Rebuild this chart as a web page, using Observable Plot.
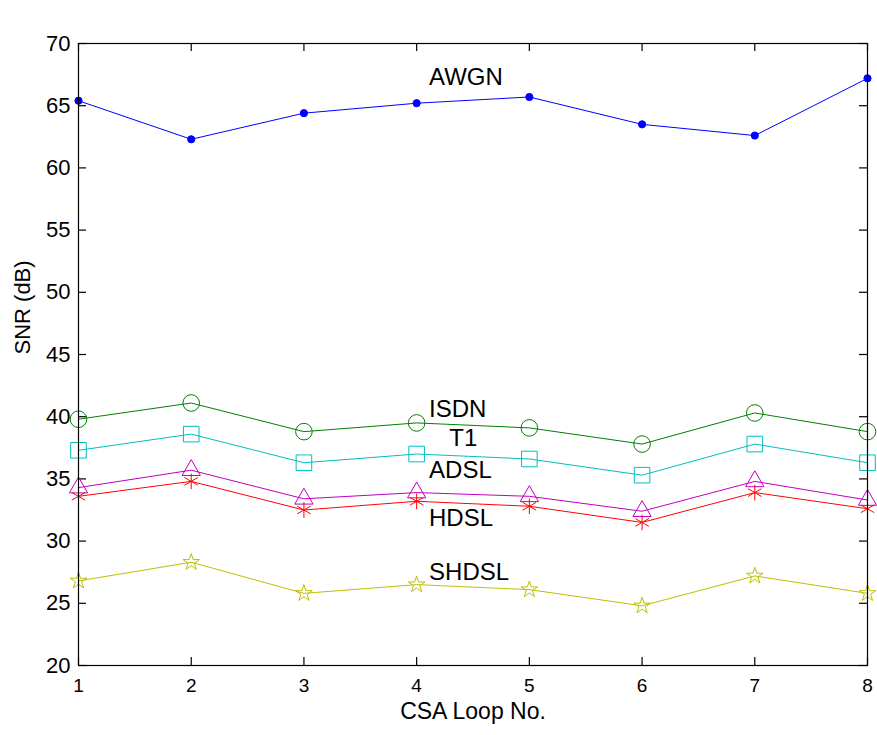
<!DOCTYPE html>
<html>
<head>
<meta charset="utf-8">
<script src="https://cdn.jsdelivr.net/npm/d3@7"></script>
<script src="https://cdn.jsdelivr.net/npm/@observablehq/plot@0.6"></script>
<style>
  html, body { margin: 0; padding: 0; background: #fff; }
  #chart { width: 877px; height: 735px; }
</style>
</head>
<body>
<div id="chart"></div>
<script>
const loops = [1, 2, 3, 4, 5, 6, 7, 8];
const awgn  = [65.4, 62.3, 64.4, 65.2, 65.7, 63.5, 62.6, 67.2];
const isdn  = [39.8, 41.1, 38.8, 39.5, 39.1, 37.8, 40.3, 38.8];
const t1    = [37.3, 38.6, 36.3, 37.0, 36.6, 35.3, 37.8, 36.3];
const adsl  = [34.3, 35.7, 33.4, 33.9, 33.6, 32.4, 34.8, 33.3];
const hdsl  = [33.6, 34.8, 32.5, 33.2, 32.8, 31.5, 33.9, 32.6];
const shdsl = [26.8, 28.3, 25.8, 26.5, 26.1, 24.8, 27.2, 25.8];
const yTicks = [20, 25, 30, 35, 40, 45, 50, 55, 60, 65, 70];
const xTicks = [1, 2, 3, 4, 5, 6, 7, 8];

// series label annotations (data coordinates)
const labelNames = ["AWGN", "ISDN", "T1", "ADSL", "HDSL", "SHDSL"];
const labelX = [4.11, 4.11, 4.29, 4.11, 4.11, 4.11];
const labelY = [67.3, 40.6, 38.25, 35.7, 31.8, 27.5];

const series = [
  {name: "AWGN",  values: awgn,  color: "#0000ff", symbol: "circle",   r: 3.6, filled: true},
  {name: "ISDN",  values: isdn,  color: "#008000", symbol: "circle",   r: 8.3},
  {name: "T1",    values: t1,    color: "#00bfbf", symbol: "square",   r: 8.8},
  {name: "ADSL",  values: adsl,  color: "#bf00bf", symbol: "triangle", r: 6.8},
  {name: "HDSL",  values: hdsl,  color: "#ff0000", symbol: "asterisk", r: 7.4},
  {name: "SHDSL", values: shdsl, color: "#bfbf00", symbol: "star",     r: 5.2}
];

const W = 877, H = 735, ML = 78, MR = 10, MT = 43, MB = 70;
const innerW = W - ML - MR, innerH = H - MT - MB, TL = 8;

const marks = [];
for (const s of series) {
  const rows = loops.map((x, i) => ({x, y: s.values[i]}));
  marks.push(Plot.line(rows, {x: "x", y: "y", stroke: s.color, strokeWidth: 1}));
  marks.push(Plot.dot(rows, {
    x: "x", y: "y", symbol: s.symbol, r: s.r,
    stroke: s.color, fill: s.filled ? s.color : "none", strokeWidth: 1
  }));
}
const labels = labelNames.map((t, i) => ({t, x: labelX[i], y: labelY[i]}));
const fmt = d3.format("d");
const tickStyle = {stroke: "#000", strokeWidth: 1.2};

const chart = Plot.plot({
  width: W,
  height: H,
  marginLeft: ML,
  marginRight: MR,
  marginTop: MT,
  marginBottom: MB,
  style: {fontFamily: "'Liberation Sans', Arial, Helvetica, sans-serif", color: "#000", background: "#fff", overflow: "visible"},
  x: {domain: [1, 8], ticks: xTicks},
  y: {domain: [20, 70], ticks: yTicks},
  marks: [
    Plot.axisY({anchor: "left", ticks: yTicks, tickSize: 0, tickPadding: 8, fontSize: 22, label: null, tickFormat: fmt}),
    Plot.axisX({anchor: "bottom", ticks: xTicks, tickSize: 0, tickPadding: 13, fontSize: 19, label: null, tickFormat: fmt}),
    Plot.tickY(yTicks, {y: d => d, insetRight: innerW - TL, ...tickStyle}),
    Plot.tickY(yTicks, {y: d => d, insetLeft: innerW - TL, ...tickStyle}),
    Plot.tickX(xTicks, {x: d => d, insetTop: innerH - TL, ...tickStyle}),
    Plot.tickX(xTicks, {x: d => d, insetBottom: innerH - TL, ...tickStyle}),
    ...marks,
    Plot.text(labels, {x: "x", y: "y", text: "t", textAnchor: "start", fontSize: 24, fill: "#000"}),
    Plot.frame({stroke: "#000", strokeWidth: 1.2}),
    Plot.text(["SNR (dB)"], {frameAnchor: "left", dx: -56, rotate: -90, fontSize: 22, fill: "#000"}),
    Plot.text(["CSA Loop No."], {frameAnchor: "bottom", dy: 53, fontSize: 23, fill: "#000"})
  ]
});
document.getElementById("chart").appendChild(chart);
</script>
</body>
</html>
